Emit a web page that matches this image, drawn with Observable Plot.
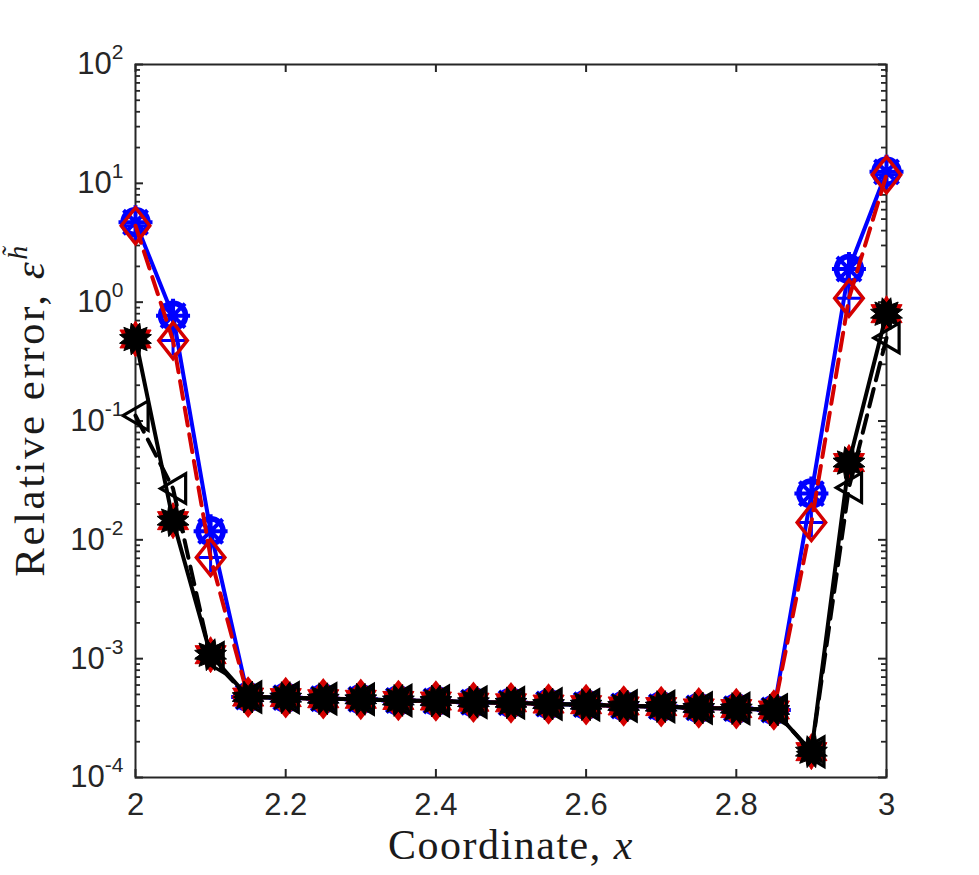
<!DOCTYPE html>
<html>
<head>
<meta charset="utf-8">
<script src="https://cdn.jsdelivr.net/npm/d3@7"></script>
<script src="https://cdn.jsdelivr.net/npm/@observablehq/plot@0.6"></script>
<style>
  html, body { margin: 0; padding: 0; background: #ffffff; }
  #chart svg { display: block; }
</style>
</head>
<body>
<div id="chart"></div>
<script>
// ---------- data ----------
const xCoord = [2.00, 2.05, 2.10, 2.15, 2.20, 2.25, 2.30, 2.35, 2.40, 2.45, 2.50, 2.55, 2.60, 2.65, 2.70, 2.75, 2.80, 2.85, 2.90, 2.95, 3.00];

// blue solid, circle + asterisk markers
const blueErr = [4.7, 0.77, 0.0118, 4.75e-4, 4.7e-4, 4.6e-4, 4.55e-4, 4.45e-4, 4.4e-4, 4.3e-4, 4.25e-4, 4.15e-4, 4.1e-4, 4.0e-4, 3.95e-4, 3.85e-4, 3.8e-4, 3.7e-4, 0.0245, 1.9, 12.5];
// red dashed, diamond markers (blue plus markers sit on the same values)
const redErr = [4.4, 0.475, 0.0071, 4.75e-4, 4.7e-4, 4.6e-4, 4.55e-4, 4.45e-4, 4.4e-4, 4.3e-4, 4.25e-4, 4.15e-4, 4.1e-4, 4.0e-4, 3.95e-4, 3.85e-4, 3.8e-4, 3.7e-4, 0.014, 1.08, 11.8];
// black solid, hexagram markers (red hexagrams underneath)
const blackErr = [0.49, 0.0145, 1.08e-3, 4.75e-4, 4.7e-4, 4.6e-4, 4.55e-4, 4.45e-4, 4.4e-4, 4.3e-4, 4.25e-4, 4.15e-4, 4.1e-4, 4.0e-4, 3.95e-4, 3.85e-4, 3.8e-4, 3.7e-4, 1.65e-4, 0.0447, 0.80];
// black dashed, left-triangle markers
const triErr = [0.111, 0.027, 1.02e-3, 4.75e-4, 4.7e-4, 4.6e-4, 4.55e-4, 4.45e-4, 4.4e-4, 4.3e-4, 4.25e-4, 4.15e-4, 4.1e-4, 4.0e-4, 3.95e-4, 3.85e-4, 3.8e-4, 3.7e-4, 1.65e-4, 0.0275, 0.50];

const xTicks = [2, 2.2, 2.4, 2.6, 2.8, 3];
const xTickLabels = ["2", "2.2", "2.4", "2.6", "2.8", "3"];
const yTicks = [1e-4, 1e-3, 1e-2, 1e-1, 1e0, 1e1, 1e2];
const yExponents = ["-4", "-3", "-2", "-1", "0", "1", "2"];
const xLabel = ["Coordinate, ", "x"];
const yLabel = ["Relative error, ", "\u03B5", "h\u0303"];

// ---------- layout / style ----------
const W = 979, H = 875, ML = 135, MR = 93, MT = 64, MB = 98;
const PW = W - ML - MR, PH = H - MT - MB;
const axisColor = "#262626";
const BLUE = "#0000ff", RED = "#d40000", BLACK = "#000000";
const serif = "'Liberation Serif', 'Times New Roman', serif";

const yMinor = [];
for (let e = -4; e < 2; e++) for (let m = 2; m <= 9; m++) yMinor.push(m * Math.pow(10, e));

const rows = (arr) => xCoord.map((x, i) => ({x, y: arr[i]}));
const blueRows = rows(blueErr), redRows = rows(redErr), blackRows = rows(blackErr), triRows = rows(triErr);

const nearestIndex = (arr, v, f) => {
  let best = 0;
  arr.forEach((a, j) => { if (Math.abs(f(a) - f(v)) < Math.abs(f(arr[best]) - f(v))) best = j; });
  return best;
};

// ---------- custom symbols ----------
const rad = (size) => Math.sqrt(size / Math.PI);
function starSymbol(n, inner, rot) {
  return {draw(ctx, size) {
    const R = rad(size);
    for (let i = 0; i < 2 * n; i++) {
      const a = rot + i * Math.PI / n, r = i % 2 ? R * inner : R;
      const px = r * Math.sin(a), py = -r * Math.cos(a);
      if (i) ctx.lineTo(px, py); else ctx.moveTo(px, py);
    }
    ctx.closePath();
  }};
}
const diamondSym = {draw(ctx, size) {
  const R = rad(size);
  ctx.moveTo(0, -R * 1.2); ctx.lineTo(R * 0.95, 0); ctx.lineTo(0, R * 1.2); ctx.lineTo(-R * 0.95, 0); ctx.closePath();
}};
const triLeftSym = {draw(ctx, size) {
  const R = rad(size);
  ctx.moveTo(-R * 0.9, 0); ctx.lineTo(R * 0.9, -R * 1.05); ctx.lineTo(R * 0.9, R * 1.05); ctx.closePath();
}};
const asteriskSym = {draw(ctx, size) {
  const R = rad(size);
  for (let k = 0; k < 4; k++) {
    const a = k * Math.PI / 4;
    ctx.moveTo(R * Math.cos(a), R * Math.sin(a)); ctx.lineTo(-R * Math.cos(a), -R * Math.sin(a));
  }
}};
const plusSym = {draw(ctx, size) {
  const R = rad(size);
  ctx.moveTo(-R, 0); ctx.lineTo(R, 0); ctx.moveTo(0, -R); ctx.lineTo(0, R);
}};

const chart = Plot.plot({
  width: W, height: H,
  marginLeft: ML, marginRight: MR, marginTop: MT, marginBottom: MB,
  style: {fontFamily: "'Liberation Sans', Arial, Helvetica, sans-serif", color: axisColor, background: "#ffffff", overflow: "visible"},
  x: {domain: [2, 3]},
  y: {type: "log", domain: [1e-4, 1e2]},
  marks: [
    Plot.frame({stroke: axisColor, strokeWidth: 2}),
    // inward ticks
    Plot.tickY(yTicks, {y: d => d, stroke: axisColor, strokeWidth: 2, insetRight: PW - 8}),
    Plot.tickY(yTicks, {y: d => d, stroke: axisColor, strokeWidth: 2, insetLeft: PW - 8}),
    Plot.tickY(yMinor, {y: d => d, stroke: axisColor, strokeWidth: 1.8, insetRight: PW - 5}),
    Plot.tickY(yMinor, {y: d => d, stroke: axisColor, strokeWidth: 1.8, insetLeft: PW - 5}),
    Plot.tickX(xTicks, {x: d => d, stroke: axisColor, strokeWidth: 2, insetTop: PH - 8}),
    Plot.tickX(xTicks, {x: d => d, stroke: axisColor, strokeWidth: 2, insetBottom: PH - 8}),
    // blue series
    Plot.line(blueRows, {x: "x", y: "y", stroke: BLUE, strokeWidth: 4}),
    Plot.dot(blueRows, {x: "x", y: "y", r: 12.5, stroke: BLUE, strokeWidth: 5.5, fill: "none"}),
    Plot.dot(blueRows, {x: "x", y: "y", r: 17, symbol: asteriskSym, stroke: BLUE, strokeWidth: 4}),
    Plot.dot(redRows, {x: "x", y: "y", r: 15, symbol: plusSym, stroke: BLUE, strokeWidth: 3}),
    // red dashed diamonds
    Plot.line(redRows, {x: "x", y: "y", stroke: RED, strokeWidth: 4, strokeDasharray: "18,9"}),
    Plot.dot(redRows, {x: "x", y: "y", r: 15, symbol: diamondSym, stroke: RED, strokeWidth: 3.5, fill: "none"}),
    // red hexagrams underneath black
    Plot.dot(blackRows, {x: "x", y: "y", r: 18, symbol: starSymbol(6, 0.58, 0), fill: RED, stroke: RED, strokeWidth: 1}),
    // black dashed triangles
    Plot.line(triRows, {x: "x", y: "y", stroke: BLACK, strokeWidth: 4, strokeDasharray: "18,9"}),
    Plot.dot(triRows, {x: "x", y: "y", r: 14, symbol: triLeftSym, stroke: BLACK, strokeWidth: 3.2, fill: "none"}),
    // black solid hexagrams
    Plot.line(blackRows, {x: "x", y: "y", stroke: BLACK, strokeWidth: 4}),
    Plot.dot(blackRows, {x: "x", y: "y", r: 16.5, symbol: starSymbol(12, 0.64, Math.PI / 12), fill: BLACK, stroke: BLACK, strokeWidth: 1}),
    // axes
    Plot.axisX(xTicks, {tickSize: 0, tickPadding: 15, fontSize: 31, tickFormat: d => xTickLabels[nearestIndex(xTicks, d, v => v)], label: null}),
    Plot.axisY(yTicks, {tickSize: 0, tickPadding: 12, fontSize: 31, tickFormat: d => "10^" + yExponents[nearestIndex(yTicks, d, v => Math.log10(v))], label: null}),
    // axis titles
    Plot.text([xLabel.join("")], {frameAnchor: "bottom", lineAnchor: "bottom", textAnchor: "middle", dy: 81, fontSize: 42, fontFamily: serif, fill: "#1a1a1a"}),
    Plot.text([yLabel.join("")], {frameAnchor: "left", lineAnchor: "bottom", textAnchor: "middle", rotate: -90, dx: -92, dy: -11, fontSize: 43, fontFamily: serif, fill: "#1a1a1a"})
  ]
});

// superscript exponents on y tick labels
d3.select(chart).selectAll('g[aria-label="y-axis tick label"] text').each(function() {
  const t = d3.select(this);
  const parts = t.text().split("^");
  t.text("");
  t.append("tspan").text(parts[0]);
  t.append("tspan").attr("font-size", 21).attr("dy", -15).text(parts[1]);
});
// rich axis titles (found by their text content)
d3.select(chart).selectAll("text").each(function() {
  const t = d3.select(this);
  const s = t.text();
  if (s === xLabel.join("")) {
    t.text("").style("letter-spacing", "1.5px");
    t.append("tspan").text(xLabel[0]);
    t.append("tspan").attr("font-style", "italic").text(xLabel[1]);
  } else if (s === yLabel.join("")) {
    t.text("").style("letter-spacing", "2.5px");
    t.append("tspan").text(yLabel[0]);
    t.append("tspan").attr("font-style", "italic").text(yLabel[1]);
    t.append("tspan").attr("font-style", "italic").attr("font-size", 28).attr("dy", -17).text(yLabel[2]);
  }
});

document.getElementById("chart").appendChild(chart);
</script>
</body>
</html>
